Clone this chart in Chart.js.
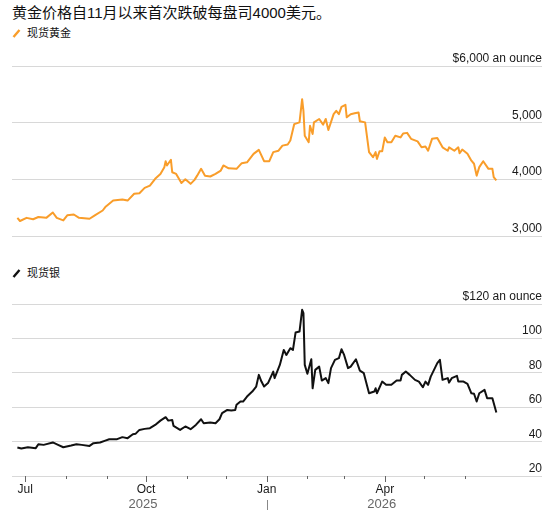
<!DOCTYPE html>
<html>
<head>
<meta charset="utf-8">
<script src="https://cdn.jsdelivr.net/npm/chart.js@4/dist/chart.umd.min.js"></script>
<style>
  body { margin: 0; background: #fff; font-family: "Liberation Sans", Arial, "Noto Sans CJK SC", sans-serif; color: #111; }
  #wrap { position: relative; width: 553px; height: 520px; overflow: hidden; }
  canvas { position: absolute; left: 0; }
  .title { position: absolute; left: 12px; top: 4px; font-size: 15px; line-height: 18px; white-space: nowrap; }
  .legend { position: absolute; left: 12px; font-size: 11px; line-height: 12px; white-space: nowrap; }
  .legend svg { vertical-align: -1px; margin-right: 6px; }
</style>
</head>
<body>
<div id="wrap">
  <div class="title">黄金价格自11月以来首次跌破每盘司4000美元。</div>
  <div class="legend" style="top:27px"><svg width="9" height="10"><line x1="1.5" y1="9" x2="7.5" y2="2" stroke="#f99d2a" stroke-width="2.4"/></svg>现货黄金</div>
  <canvas id="goldChart" width="553" height="250" style="top:0"></canvas>
  <div class="legend" style="top:267px"><svg width="9" height="10"><line x1="1.5" y1="9" x2="7.5" y2="2" stroke="#111" stroke-width="2.4"/></svg>现货银</div>
  <canvas id="silverChart" width="553" height="270" style="top:250px"></canvas>
</div>
<script>
// days counted from 1 Jul 2025
const monthDays = [0, 31, 62, 92, 123, 153, 184, 215, 243, 274, 304, 335];
const monthLabels = ['Jul', '', '', 'Oct', '', '', 'Jan', '', '', 'Apr', '', ''];
const yearLabels = ['2025', '2026'];
const yearDays = [92, 274];
const yearSplitDay = 184;

// spot gold, $ an ounce
const goldDays = [-6, -4, 1, 6, 10, 16, 21, 24, 29, 32, 37, 41, 49, 53, 59, 61, 67, 74, 78, 83,
  87, 91, 95, 99, 103, 106, 107, 108, 111, 112, 115, 119, 122, 126, 129, 131, 134, 137, 141, 145,
  149, 151, 155, 161, 165, 169, 174, 178, 182, 186, 189, 193, 196, 200, 202, 205, 209, 211, 212, 213,
  216, 217, 219, 220, 224, 227, 229, 231, 235, 237, 239, 241, 244, 245, 248, 251, 254, 255, 259, 262,
  265, 267, 268, 270, 272, 274, 276, 279, 282, 286, 288, 291, 294, 299, 302, 305, 307, 310, 314, 318,
  322, 323, 327, 330, 331, 333, 337, 340, 342, 344, 346, 349, 353, 356, 357, 359];
const goldPrice = [3320, 3265, 3320, 3295, 3335, 3320, 3415, 3320, 3275, 3365, 3380, 3320, 3305, 3365, 3450, 3510, 3625, 3645, 3625, 3745,
  3755, 3850, 3890, 4010, 4095, 4215, 4320, 4245, 4345, 4125, 4095, 3935, 4000, 3920, 3990, 4065, 4185, 4065, 4050, 4095,
  4155, 4245, 4195, 4185, 4285, 4300, 4450, 4520, 4320, 4320, 4480, 4505, 4595, 4615, 4685, 4975, 5005, 5415, 5210, 4770,
  4655, 4945, 4800, 5005, 5065, 4965, 5065, 4870, 5150, 5210, 5150, 5280, 5315, 5095, 5150, 5165, 5180, 5025, 5005, 4480,
  4390, 4480, 4360, 4495, 4495, 4740, 4655, 4655, 4770, 4740, 4810, 4820, 4715, 4670, 4565, 4580, 4505, 4715, 4730, 4565,
  4505, 4565, 4505, 4565, 4460, 4525, 4450, 4330, 4275, 4065, 4215, 4320, 4185, 4185, 4040, 3980];

// spot silver, $ an ounce
const silverDays = [-6, -3, 2, 8, 10, 14, 21, 25, 29, 35, 39, 43, 49, 52, 57, 61, 64, 70, 74, 78,
  82, 84, 87, 91, 95, 99, 103, 107, 109, 112, 113, 118, 122, 126, 130, 134, 136, 141, 145, 148,
  150, 154, 157, 160, 161, 164, 166, 169, 173, 176, 178, 180, 182, 185, 189, 190, 194, 197, 199, 202,
  204, 206, 209, 211, 212, 213, 215, 218, 219, 221, 224, 226, 229, 231, 233, 236, 239, 241, 243, 246,
  248, 252, 255, 258, 262, 266, 267, 268, 272, 275, 279, 283, 286, 287, 290, 293, 297, 300, 303, 305,
  307, 309, 314, 316, 318, 322, 323, 325, 329, 330, 334, 337, 340, 342, 344, 346, 350, 352, 356, 359];
const silverPrice = [36.6, 36.0, 36.7, 36.2, 38.5, 38.1, 39.5, 38.1, 36.7, 37.7, 38.5, 38.1, 37.5, 39.1, 39.5, 40.6, 41.4, 41.4, 42.6, 42.0,
  44.3, 44.5, 46.8, 47.4, 47.8, 49.7, 52.2, 54.2, 52.2, 52.6, 49.1, 46.8, 48.8, 47.2, 49.7, 53.0, 50.7, 51.1, 50.7, 53.0,
  56.5, 58.4, 58.1, 58.4, 61.4, 63.3, 63.3, 66.2, 69.1, 72.0, 78.8, 74.9, 72.0, 74.0, 80.7, 76.9, 84.6, 93.3, 90.4, 94.3,
  93.3, 103.4, 104.0, 116.6, 114.7, 84.6, 79.4, 87.9, 71.0, 81.7, 83.6, 75.5, 76.9, 74.0, 82.7, 87.5, 88.5, 93.7, 90.4, 82.7,
  83.6, 87.9, 81.3, 79.8, 68.1, 69.1, 71.0, 68.1, 74.9, 73.0, 73.0, 75.5, 75.5, 78.8, 80.7, 78.8, 75.9, 74.9, 71.6, 74.9,
  73.0, 77.8, 85.6, 87.5, 75.9, 76.9, 74.3, 76.9, 78.2, 74.9, 74.9, 73.6, 68.1, 67.8, 63.3, 68.1, 70.1, 65.2, 65.2, 56.9];

const FONT = '"Liberation Sans", Arial, sans-serif';

// value labels sit just above each gridline, right aligned; optional month ticks and years
function extras(withX) {
  return {
    id: 'extras',
    afterDraw(chart) {
      const ctx = chart.ctx, area = chart.chartArea;
      const ys = chart.scales.y, xs = chart.scales.x;
      ctx.save();
      ctx.font = '12px ' + FONT;
      ctx.fillStyle = '#1a1a1a';
      ctx.textAlign = 'right';
      ctx.textBaseline = 'alphabetic';
      ys.ticks.forEach((t, i) => {
        let txt = t.value.toLocaleString('en-US');
        if (i === ys.ticks.length - 1) txt = '$' + txt + ' an ounce';
        ctx.fillText(txt, area.right, ys.getPixelForValue(t.value) - 4);
      });
      if (withX) {
        ctx.strokeStyle = '#666';
        ctx.lineWidth = 1;
        monthDays.forEach((d, i) => {
          const px = Math.round(xs.getPixelForValue(d)) + 0.5;
          ctx.beginPath();
          ctx.moveTo(px, area.bottom);
          ctx.lineTo(px, area.bottom + (monthLabels[i] ? 6 : 3));
          ctx.stroke();
        });
        ctx.font = '13px ' + FONT;
        ctx.fillStyle = '#666';
        ctx.textAlign = 'center';
        ctx.textBaseline = 'middle';
        yearLabels.forEach((y, i) => ctx.fillText(y, xs.getPixelForValue(yearDays[i]) - 3, area.bottom + 28));
        const sx = Math.round(xs.getPixelForValue(yearSplitDay)) + 0.5;
        ctx.strokeStyle = '#888';
        ctx.beginPath();
        ctx.moveTo(sx, area.bottom + 24);
        ctx.lineTo(sx, area.bottom + 34);
        ctx.stroke();
      }
      ctx.restore();
    }
  };
}

function makeChart(id, days, values, colour, yMin, yMax, step, withX, pad) {
  return new Chart(document.getElementById(id), {
    type: 'line',
    data: {
      datasets: [{
        data: days.map((d, i) => ({ x: d, y: values[i] })),
        borderColor: colour,
        borderWidth: 2,
        pointRadius: 0,
        tension: 0,
        borderJoinStyle: 'round'
      }]
    },
    options: {
      responsive: false,
      animation: false,
      layout: { padding: pad },
      plugins: { legend: { display: false }, tooltip: { enabled: false } },
      scales: {
        x: {
          type: 'linear',
          min: -10.1,
          max: 393.8,
          display: withX,
          grid: { display: false, drawTicks: false },
          border: { display: false },
          afterBuildTicks: s => { s.ticks = monthDays.map(v => ({ value: v })); },
          afterFit: s => { s.height = withX ? 44 : 0; },
          ticks: {
            autoSkip: false,
            maxRotation: 0,
            padding: 6,
            color: '#1a1a1a',
            font: { family: FONT, size: 12 },
            callback: (v, i) => monthLabels[i]
          }
        },
        y: {
          position: 'right',
          min: yMin,
          max: yMax,
          afterFit: s => { s.width = 0; },
          border: { display: false },
          grid: { color: '#d8d8d8', lineWidth: 1, drawTicks: false },
          ticks: { stepSize: step, display: false }
        }
      }
    },
    plugins: [extras(withX)]
  });
}

const goldChart = makeChart('goldChart', goldDays, goldPrice, '#f99d2a', 3000, 6000, 1000, false,
  { left: 12, right: 11, top: 66, bottom: 14 });
const silverChart = makeChart('silverChart', silverDays, silverPrice, '#111', 20, 120, 20, true,
  { left: 12, right: 11, top: 54, bottom: 0 });
</script>
</body>
</html>
